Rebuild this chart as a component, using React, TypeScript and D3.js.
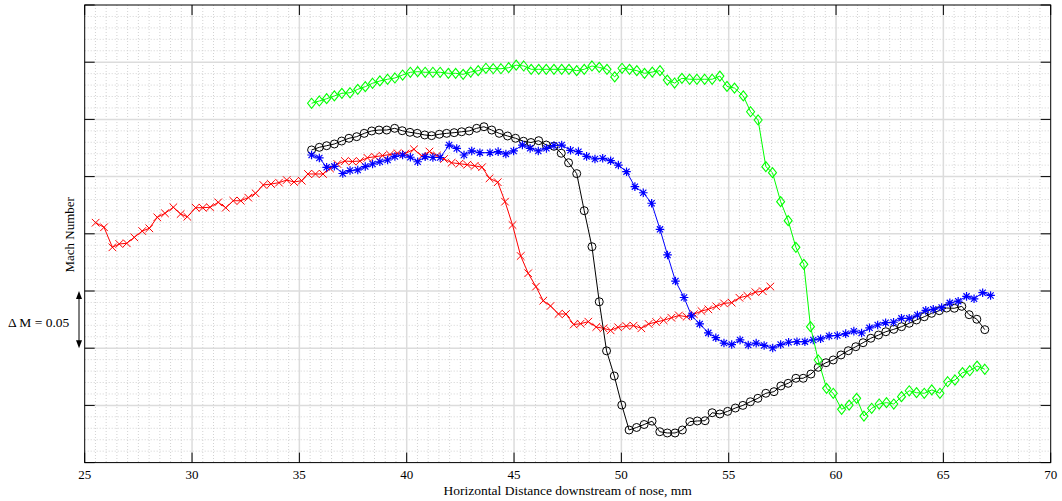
import React from "react";
import * as d3 from "d3";

// Mach number traverses, plotted against horizontal distance downstream of the nose (mm).
// Mach values are relative (the axis carries no numbers): one major division = 0.05.

const xTicks = [25, 30, 35, 40, 45, 50, 55, 60, 65, 70];
const yMajor = [0, 0.05, 0.1, 0.15, 0.2, 0.25, 0.3, 0.35, 0.4];

// red (x markers)
const redSeries: [number, number][] = [
  [25.51, 0.2097], [25.9, 0.2057], [26.29, 0.1882], [26.61, 0.1911], [26.96, 0.1917], [27.31, 0.1969],
  [27.68, 0.2024], [28.01, 0.2048], [28.38, 0.2144], [28.74, 0.2179], [29.13, 0.2232], [29.47, 0.2173],
  [29.78, 0.2149], [30.17, 0.2228], [30.5, 0.2228], [30.84, 0.2232], [31.22, 0.2275], [31.57, 0.2228],
  [31.92, 0.2289], [32.27, 0.2289], [32.62, 0.2316], [32.96, 0.2354], [33.32, 0.2427], [33.68, 0.2435],
  [34.05, 0.2447], [34.41, 0.247], [34.75, 0.2453], [35.11, 0.2464], [35.4, 0.2523], [35.75, 0.2523],
  [36.1, 0.2523], [36.43, 0.2571], [36.77, 0.261], [37.12, 0.2636], [37.47, 0.2632], [37.82, 0.2636],
  [38.17, 0.2664], [38.52, 0.2674], [38.87, 0.2683], [39.22, 0.2693], [39.57, 0.2704], [39.94, 0.2702],
  [40.34, 0.2739], [40.7, 0.268], [41.06, 0.2719], [41.41, 0.2684], [41.74, 0.2654], [42.09, 0.2621],
  [42.46, 0.2613], [42.82, 0.2604], [43.17, 0.2594], [43.51, 0.2582], [43.86, 0.2485], [44.24, 0.2451],
  [44.58, 0.2281], [44.93, 0.2077], [45.31, 0.1806], [45.66, 0.1655], [46.02, 0.1538], [46.36, 0.1415],
  [46.7, 0.1369], [47.07, 0.1299], [47.42, 0.1299], [47.78, 0.1207], [48.1, 0.1214], [48.46, 0.1232],
  [48.83, 0.1185], [49.17, 0.1174], [49.5, 0.1156], [49.85, 0.1183], [50.23, 0.1194], [50.57, 0.1197],
  [50.93, 0.1174], [51.27, 0.1212], [51.62, 0.1229], [51.97, 0.1244], [52.33, 0.1266], [52.68, 0.1286],
  [53.04, 0.1275], [53.38, 0.1297], [53.73, 0.1325], [54.05, 0.134], [54.42, 0.1366], [54.78, 0.1392],
  [55.14, 0.1398], [55.5, 0.1441], [55.87, 0.1458], [56.24, 0.149], [56.59, 0.1498], [56.94, 0.1539],
];

// black (circle markers)
const blackSeries: [number, number][] = [
  [35.57, 0.2733], [35.93, 0.2756], [36.27, 0.277], [36.63, 0.2785], [36.97, 0.2811], [37.31, 0.2835],
  [37.67, 0.2849], [38.02, 0.2878], [38.37, 0.2899], [38.71, 0.2907], [39.07, 0.2907], [39.44, 0.2922],
  [39.79, 0.2901], [40.15, 0.2887], [40.49, 0.2878], [40.84, 0.2864], [41.16, 0.2858], [41.52, 0.287],
  [41.86, 0.2878], [42.21, 0.2884], [42.56, 0.2892], [42.91, 0.2899], [43.26, 0.2922], [43.6, 0.2936],
  [43.96, 0.2907], [44.31, 0.2878], [44.7, 0.2855], [45.07, 0.2835], [45.44, 0.2809], [45.79, 0.2798],
  [46.15, 0.2814], [46.5, 0.2776], [46.86, 0.2765], [47.2, 0.2704], [47.54, 0.2621], [47.92, 0.2526],
  [48.27, 0.2202], [48.63, 0.1887], [48.97, 0.1406], [49.31, 0.0977], [49.67, 0.0757], [50.02, 0.0503],
  [50.36, 0.0285], [50.71, 0.0307], [51.06, 0.0333], [51.43, 0.0362], [51.79, 0.027], [52.14, 0.0259],
  [52.5, 0.0259], [52.84, 0.0285], [53.19, 0.0358], [53.54, 0.0364], [53.9, 0.0366], [54.23, 0.0436],
  [54.59, 0.0425], [54.95, 0.0448], [55.31, 0.0477], [55.66, 0.05], [56.01, 0.0532], [56.36, 0.0562],
  [56.73, 0.0606], [57.11, 0.062], [57.43, 0.067], [57.77, 0.0693], [58.13, 0.0737], [58.47, 0.0737],
  [58.83, 0.0774], [59.17, 0.0833], [59.53, 0.0873], [59.87, 0.0897], [60.23, 0.0941], [60.57, 0.0978],
  [60.92, 0.1013], [61.26, 0.1048], [61.62, 0.1087], [61.98, 0.1115], [62.32, 0.1144], [62.69, 0.1165],
  [63.05, 0.1188], [63.41, 0.1218], [63.75, 0.1247], [64.11, 0.1275], [64.45, 0.1305], [64.81, 0.1328],
  [65.15, 0.1351], [65.51, 0.1349], [65.86, 0.1366], [66.2, 0.1293], [66.56, 0.1253], [66.93, 0.1162],
];

// blue (asterisk markers)
const blueSeries: [number, number][] = [
  [35.57, 0.2689], [35.93, 0.2663], [36.27, 0.2581], [36.63, 0.259], [37.02, 0.2527], [37.36, 0.2553],
  [37.72, 0.2558], [38.07, 0.2588], [38.41, 0.261], [38.75, 0.263], [39.11, 0.2645], [39.45, 0.2676],
  [39.81, 0.2689], [40.17, 0.2669], [40.51, 0.263], [40.86, 0.2674], [41.22, 0.2667], [41.56, 0.2667],
  [41.98, 0.2776], [42.33, 0.2746], [42.67, 0.2689], [43.03, 0.2724], [43.41, 0.2709], [43.88, 0.2709],
  [44.26, 0.2718], [44.62, 0.2698], [44.98, 0.2724], [45.39, 0.2776], [45.75, 0.2747], [46.13, 0.2724],
  [46.51, 0.2747], [46.86, 0.2772], [47.22, 0.2776], [47.63, 0.273], [48.0, 0.2718], [48.38, 0.2677],
  [48.77, 0.2654], [49.13, 0.266], [49.5, 0.2639], [49.86, 0.2601], [50.24, 0.2543], [50.63, 0.2412],
  [51.02, 0.2359], [51.41, 0.2267], [51.8, 0.2039], [52.15, 0.1815], [52.52, 0.1587], [52.92, 0.1443],
  [53.27, 0.1283], [53.65, 0.1212], [54.05, 0.1134], [54.4, 0.1092], [54.78, 0.1045], [55.14, 0.1032],
  [55.53, 0.1072], [55.91, 0.1028], [56.28, 0.1044], [56.65, 0.1024], [57.05, 0.1002], [57.42, 0.1032],
  [57.79, 0.1052], [58.18, 0.1057], [58.55, 0.1057], [58.94, 0.1072], [59.28, 0.1082], [59.68, 0.1107],
  [60.06, 0.1111], [60.45, 0.1127], [60.83, 0.1149], [61.19, 0.1133], [61.56, 0.1178], [61.94, 0.1203],
  [62.31, 0.1223], [62.68, 0.1227], [63.05, 0.1261], [63.41, 0.1261], [63.79, 0.129], [64.18, 0.1331],
  [64.53, 0.134], [64.92, 0.1356], [65.3, 0.1396], [65.69, 0.1411], [66.08, 0.1453], [66.43, 0.1432],
  [66.83, 0.1485], [67.2, 0.1461],
];

// green (diamond markers)
const greenSeries: [number, number][] = [
  [35.57, 0.3141], [35.93, 0.3161], [36.27, 0.3181], [36.63, 0.3205], [36.98, 0.3228], [37.36, 0.3233],
  [37.72, 0.3263], [38.07, 0.3286], [38.41, 0.3316], [38.75, 0.3336], [39.11, 0.3351], [39.45, 0.3362],
  [39.81, 0.3388], [40.17, 0.3412], [40.51, 0.3417], [40.86, 0.3412], [41.22, 0.3412], [41.56, 0.3412],
  [41.94, 0.3403], [42.28, 0.3403], [42.63, 0.3394], [42.98, 0.3414], [43.33, 0.3426], [43.69, 0.3447],
  [44.03, 0.3443], [44.39, 0.3443], [44.75, 0.3452], [45.1, 0.3474], [45.45, 0.3467], [45.8, 0.3438],
  [46.15, 0.3438], [46.5, 0.3438], [46.86, 0.3438], [47.22, 0.3438], [47.56, 0.3438], [47.92, 0.3426],
  [48.27, 0.3438], [48.63, 0.3467], [48.97, 0.3455], [49.33, 0.3438], [49.69, 0.3371], [50.03, 0.3447],
  [50.38, 0.3438], [50.72, 0.3426], [51.08, 0.3403], [51.44, 0.3414], [51.8, 0.3426], [52.14, 0.3344],
  [52.48, 0.3318], [52.82, 0.3359], [53.18, 0.3351], [53.52, 0.3351], [53.88, 0.3351], [54.23, 0.3351],
  [54.59, 0.3379], [54.92, 0.3288], [55.27, 0.3274], [55.68, 0.3205], [56.02, 0.3067], [56.37, 0.2995],
  [56.73, 0.2587], [57.04, 0.2534], [57.42, 0.2281], [57.77, 0.2115], [58.13, 0.1882], [58.5, 0.1733],
  [58.81, 0.1188], [59.17, 0.0897], [59.56, 0.0649], [59.87, 0.0606], [60.26, 0.0466], [60.61, 0.0503],
  [60.96, 0.0562], [61.3, 0.0407], [61.66, 0.0475], [62.01, 0.0512], [62.35, 0.0524], [62.69, 0.0512],
  [63.05, 0.0576], [63.41, 0.0628], [63.75, 0.0611], [64.11, 0.0606], [64.46, 0.0635], [64.84, 0.0606],
  [65.2, 0.0707], [65.54, 0.0722], [65.89, 0.0786], [66.23, 0.0803], [66.57, 0.0844], [66.93, 0.0816],
];

const W = 1062;
const H = 501;
const plot = { left: 84.7, right: 1050.7, top: 5, bottom: 462.6 };
const serif = "'Liberation Serif', 'DejaVu Serif', serif";

type MarkerKind = "x" | "circle" | "asterisk" | "diamond";

function Marker({ kind, cx, cy, color }: { kind: MarkerKind; cx: number; cy: number; color: string }) {
  const s = 3.8;
  if (kind === "circle") {
    return <circle cx={cx} cy={cy} r={4} fill="none" stroke={color} strokeWidth={1} />;
  }
  if (kind === "diamond") {
    const w = 4, h = 5;
    return (
      <path
        d={`M${cx},${cy - h}L${cx + w},${cy}L${cx},${cy + h}L${cx - w},${cy}Z`}
        fill="none"
        stroke={color}
        strokeWidth={1.1}
      />
    );
  }
  if (kind === "x") {
    return (
      <path
        d={`M${cx - s},${cy - s}L${cx + s},${cy + s}M${cx - s},${cy + s}L${cx + s},${cy - s}`}
        stroke={color}
        strokeWidth={1}
      />
    );
  }
  const a = 4.3, d = 3.1;
  return (
    <path
      d={`M${cx - a},${cy}L${cx + a},${cy}M${cx},${cy - a}L${cx},${cy + a}M${cx - d},${cy - d}L${cx + d},${cy + d}M${cx - d},${cy + d}L${cx + d},${cy - d}`}
      stroke={color}
      strokeWidth={1.2}
    />
  );
}

export default function App() {
  const x = d3.scaleLinear().domain([25, 70]).range([plot.left, plot.right]);
  const y = d3.scaleLinear().domain([0, 0.4]).range([plot.bottom, plot.top]);

  const line = d3
    .line<[number, number]>()
    .x((d) => x(d[0]))
    .y((d) => y(d[1]));

  const minorX = d3.range(25, 70.001, 0.5).filter((v) => Math.abs(v / 5 - Math.round(v / 5)) > 1e-6);
  const minorY = d3.range(0, 0.4001, 0.01).filter((v) => Math.abs(v / 0.05 - Math.round(v / 0.05)) > 1e-6);

  const series: { data: [number, number][]; color: string; kind: MarkerKind }[] = [
    { data: redSeries, color: "#ff0000", kind: "x" },
    { data: blackSeries, color: "#000000", kind: "circle" },
    { data: blueSeries, color: "#0000ff", kind: "asterisk" },
    { data: greenSeries, color: "#00ff00", kind: "diamond" },
  ];

  const arrowX = 79;
  const arrowTop = y(0.15);
  const arrowBot = y(0.1);

  return (
    <svg
      width={W}
      height={H}
      style={{ position: "absolute", left: 0, top: 0, background: "#fff" }}
      fontFamily={serif}
    >
      <rect x={0} y={0} width={W} height={H} fill="#fff" />

      {/* minor grid */}
      <g stroke="#d2d2d2" strokeWidth={1} strokeDasharray="1,2">
        {minorX.map((v) => (
          <line key={`mx${v}`} x1={x(v)} x2={x(v)} y1={plot.top} y2={plot.bottom} />
        ))}
        {minorY.map((v) => (
          <line key={`my${v}`} x1={plot.left} x2={plot.right} y1={y(v)} y2={y(v)} />
        ))}
      </g>

      {/* major grid */}
      <g stroke="#dcdcdc" strokeWidth={1.5}>
        {xTicks.slice(1, -1).map((v) => (
          <line key={`gx${v}`} x1={x(v)} x2={x(v)} y1={plot.top} y2={plot.bottom} />
        ))}
        {yMajor.slice(1, -1).map((v) => (
          <line key={`gy${v}`} x1={plot.left} x2={plot.right} y1={y(v)} y2={y(v)} />
        ))}
      </g>

      {/* data */}
      {series.map((s, i) => (
        <g key={i}>
          <path d={line(s.data) ?? ""} fill="none" stroke={s.color} strokeWidth={1} />
          {s.data.map((d, j) => (
            <Marker key={j} kind={s.kind} cx={x(d[0])} cy={y(d[1])} color={s.color} />
          ))}
        </g>
      ))}

      {/* frame and inward ticks */}
      <rect
        x={plot.left}
        y={plot.top}
        width={plot.right - plot.left}
        height={plot.bottom - plot.top}
        fill="none"
        stroke="#000"
        strokeWidth={1}
      />
      <g stroke="#000" strokeWidth={1}>
        {xTicks.map((v) => (
          <g key={`tx${v}`}>
            <line x1={x(v)} x2={x(v)} y1={plot.bottom} y2={plot.bottom - 10} />
            <line x1={x(v)} x2={x(v)} y1={plot.top} y2={plot.top + 10} />
          </g>
        ))}
        {yMajor.map((v) => (
          <g key={`ty${v}`}>
            <line x1={plot.left} x2={plot.left + 10} y1={y(v)} y2={y(v)} />
            <line x1={plot.right} x2={plot.right - 10} y1={y(v)} y2={y(v)} />
          </g>
        ))}
      </g>

      {/* x tick labels */}
      <g fontSize={13} textAnchor="middle" fill="#000">
        {xTicks.map((v) => (
          <text key={`lx${v}`} x={x(v)} y={479}>
            {v}
          </text>
        ))}
      </g>
      <text x={(plot.left + plot.right) / 2} y={495} fontSize={13.5} textAnchor="middle" fill="#000">
        Horizontal Distance downstream of nose, mm
      </text>

      <text
        transform={`translate(74, ${(plot.top + plot.bottom) / 2 + 1}) rotate(-90)`}
        fontSize={13}
        textAnchor="middle"
        fill="#000"
      >
        Mach Number
      </text>

      {/* scale bar for one major division */}
      <text x={8} y={327} fontSize={13.5} fill="#000">
        Δ M = 0.05
      </text>
      <line x1={arrowX} x2={arrowX} y1={arrowTop + 4} y2={arrowBot - 4} stroke="#000" strokeWidth={1} />
      <path d={`M${arrowX},${arrowTop}L${arrowX - 3},${arrowTop + 8}L${arrowX + 3},${arrowTop + 8}Z`} fill="#000" />
      <path d={`M${arrowX},${arrowBot}L${arrowX - 3},${arrowBot - 8}L${arrowX + 3},${arrowBot - 8}Z`} fill="#000" />
    </svg>
  );
}
